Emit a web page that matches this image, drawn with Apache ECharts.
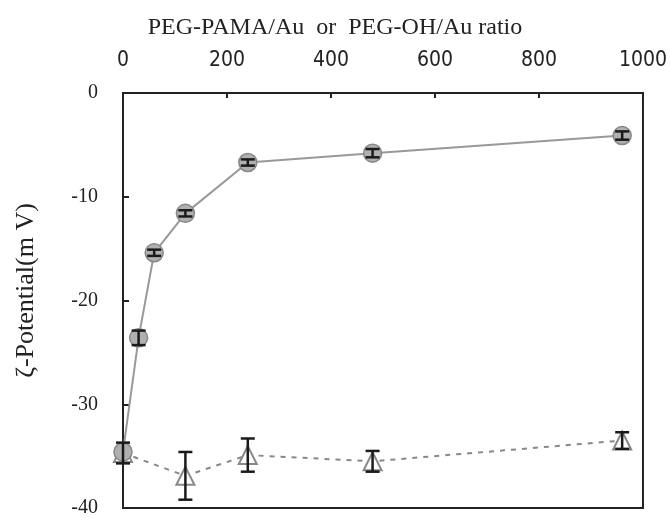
<!DOCTYPE html>
<html><head><meta charset="utf-8">
<script src="https://cdn.jsdelivr.net/npm/echarts@6/dist/echarts.min.js"></script>
<style>html,body{margin:0;padding:0;background:#fff}#c{width:670px;height:518px}</style>
</head><body><div id="c"></div>
<script>
var xTitle = 'PEG-PAMA/Au  or  PEG-OH/Au ratio';
var yTitle = 'ζ-Potential(m V)';
var pamaX = [0, 30, 60, 120, 240, 480, 960];
var pamaY = [-34.6, -23.6, -15.4, -11.6, -6.7, -5.8, -4.1];
var pamaErr = [0, 0.7, 0.3, 0.3, 0.3, 0.4, 0.4];
var ohX = [0, 120, 240, 480, 960];
var ohY = [-34.7, -36.9, -34.9, -35.5, -33.5];
var ohErr = [1.0, 2.3, 1.6, 1.0, 0.8];

var chart = echarts.init(document.getElementById('c'));
function pairs(xs, ys){ return xs.map(function(x,i){return [x, ys[i]];}); }
function errs(xs, ys, es){ return xs.map(function(x,i){return [x, ys[i]-es[i], ys[i]+es[i]];}); }
function errRender(params, api){
  var x = api.value(0), lo = api.value(1), hi = api.value(2);
  if (hi - lo < 0.05) return null;
  var p1 = api.coord([x, hi]), p2 = api.coord([x, lo]);
  var w = 7;
  var st = {stroke:'#1a1a1a', lineWidth:2.5};
  return {type:'group', children:[
    {type:'line', shape:{x1:p1[0],y1:p1[1],x2:p2[0],y2:p2[1]}, style:st},
    {type:'line', shape:{x1:p1[0]-w,y1:p1[1],x2:p1[0]+w,y2:p1[1]}, style:st},
    {type:'line', shape:{x1:p2[0]-w,y1:p2[1],x2:p2[0]+w,y2:p2[1]}, style:st}
  ]};
}
chart.setOption({
  animation:false,
  backgroundColor:'#fff',
  title:{text:xTitle, left:'center', top:11,
    textStyle:{fontFamily:'Liberation Serif', fontWeight:'normal', fontSize:24, color:'#222'}},
  grid:{left:123, right:24, top:93, bottom:10, show:true, borderColor:'#222', borderWidth:2, backgroundColor:'transparent'},
  xAxis:{type:'value', position:'top', min:0, max:1000, interval:200,
    axisLine:{lineStyle:{color:'#222', width:2}},
    axisTick:{inside:true, length:5, lineStyle:{color:'#222', width:2}},
    axisLabel:{fontFamily:'Liberation Sans Narrow, DejaVu Sans Condensed, Liberation Sans, sans-serif', fontSize:21, color:'#222', margin:22,
      formatter:function(v){return String(v);}},
    splitLine:{show:false}},
  yAxis:{type:'value', min:-40, max:0, interval:10,
    name:yTitle, nameLocation:'middle', nameGap:84, nameRotate:90,
    nameTextStyle:{fontFamily:'Liberation Serif', fontSize:26, color:'#222', padding:[0,0,0,20]},
    axisLine:{lineStyle:{color:'#222', width:2}},
    axisTick:{inside:true, length:6, lineStyle:{color:'#222', width:2}},
    axisLabel:{fontFamily:'Liberation Serif', fontSize:20, color:'#222', margin:25},
    splitLine:{show:false}},
  series:[
    {type:'line', data:pairs(ohX, ohY), symbol:'triangle', symbolSize:18,
     lineStyle:{color:'#888', width:2, type:[5,6]},
     itemStyle:{color:'#fff', borderColor:'#888', borderWidth:2}, z:2},
    {type:'line', data:pairs(pamaX, pamaY), symbol:'circle', symbolSize:18,
     lineStyle:{color:'#999', width:2},
     itemStyle:{color:'#b0b0b0', borderColor:'#888', borderWidth:1.5}, z:3},
    {type:'custom', data:errs(pamaX, pamaY, pamaErr), renderItem:errRender, z:4},
    {type:'custom', data:errs(ohX, ohY, ohErr), renderItem:errRender, z:4}
  ]
});
</script></body></html>
